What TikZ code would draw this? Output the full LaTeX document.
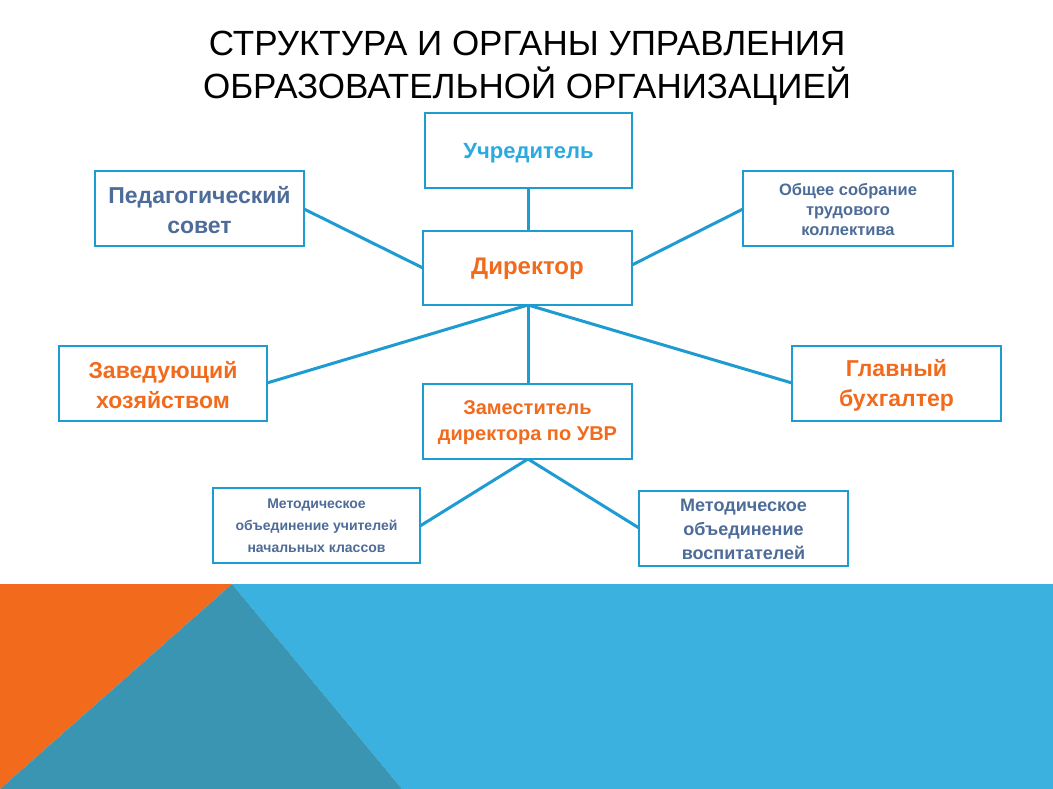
\documentclass[tikz,border=0pt]{standalone}
\usepackage{fontspec}
\setmainfont{Liberation Sans}
\begin{document}
\begin{tikzpicture}[x=1pt,y=-1pt,
  bx/.style={draw=lineb,line width=2.5pt,fill=white},
  ln/.style={draw=lineb,line width=3pt},
  tx/.style={align=center,font=\bfseries,inner sep=0pt}]
\definecolor{lineb}{HTML}{1E9BD0}
\definecolor{orng}{HTML}{F26B1D}
\definecolor{slate}{HTML}{4E6C98}
\definecolor{lblue}{HTML}{2AAAE0}
\definecolor{bgblue}{HTML}{3AB1DE}
\definecolor{teal}{HTML}{3A95B3}
\useasboundingbox (0,0) rectangle (1053,789);
\fill[bgblue] (232,584) -- (1053,584) -- (1053,789) -- (402,789) -- cycle;
\fill[orng] (0,584) -- (232,584) -- (0,789) -- cycle;
\fill[teal] (232,584) -- (402,789) -- (0,789) -- cycle;
\node[font=\fontsize{35}{43}\selectfont,align=center] (title) at (527,68) {СТРУКТУРА И ОРГАНЫ УПРАВЛЕНИЯ\\ОБРАЗОВАТЕЛЬНОЙ ОРГАНИЗАЦИЕЙ};
% connectors
\coordinate (dB) at (528,305);
\draw[ln] (528,188) -- (528,231);
\draw[ln] (304,209) -- (423,268);
\draw[ln] (743,209) -- (632,265);
\draw[ln] (dB) -- (267,383);
\draw[ln] (dB) -- (792,383);
\draw[ln] (dB) -- (528,384);
\draw[ln] (528,459) -- (420,526);
\draw[ln] (528,459) -- (639,528);
% boxes
\draw[bx] (425,113) rectangle (632,188);
\node[tx,text=lblue,font=\bfseries\fontsize{22}{26}\selectfont] (u) at (528.5,153) {Учредитель};
\draw[bx] (95,171) rectangle (304,246);
\node[tx,text=slate,font=\bfseries\fontsize{23}{30}\selectfont] (p) at (199.5,210) {Педагогический\\совет};
\draw[bx] (743,171) rectangle (953,246);
\node[tx,text=slate,font=\bfseries\fontsize{16.5}{20}\selectfont] (o) at (848,210) {Общее собрание\\трудового\\коллектива};
\draw[bx] (423,231) rectangle (632,305);
\node[tx,text=orng,font=\bfseries\fontsize{24}{28}\selectfont] (d) at (527.5,269) {Директор};
\draw[bx] (59,346) rectangle (267,421);
\node[tx,text=orng,font=\bfseries\fontsize{23}{30}\selectfont] (z) at (163,385) {Заведующий\\хозяйством};
\draw[bx] (792,346) rectangle (1001,421);
\node[tx,text=orng,font=\bfseries\fontsize{23}{30}\selectfont] (g) at (896.5,385) {Главный\\бухгалтер};
\draw[bx] (423,384) rectangle (632,459);
\node[tx,text=orng,font=\bfseries\fontsize{20}{26}\selectfont] (zm) at (527.5,423) {Заместитель\\директора по УВР};
\draw[bx] (213,488) rectangle (420,563);
\node[tx,text=slate,font=\bfseries\fontsize{14}{22}\selectfont] (m1) at (316.5,526) {Методическое\\объединение учителей\\начальных классов};
\draw[bx] (639,491) rectangle (848,566);
\node[tx,text=slate,font=\bfseries\fontsize{18}{24}\selectfont] (m2) at (743.5,529) {Методическое\\объединение\\воспитателей};
\end{tikzpicture}
\end{document}
